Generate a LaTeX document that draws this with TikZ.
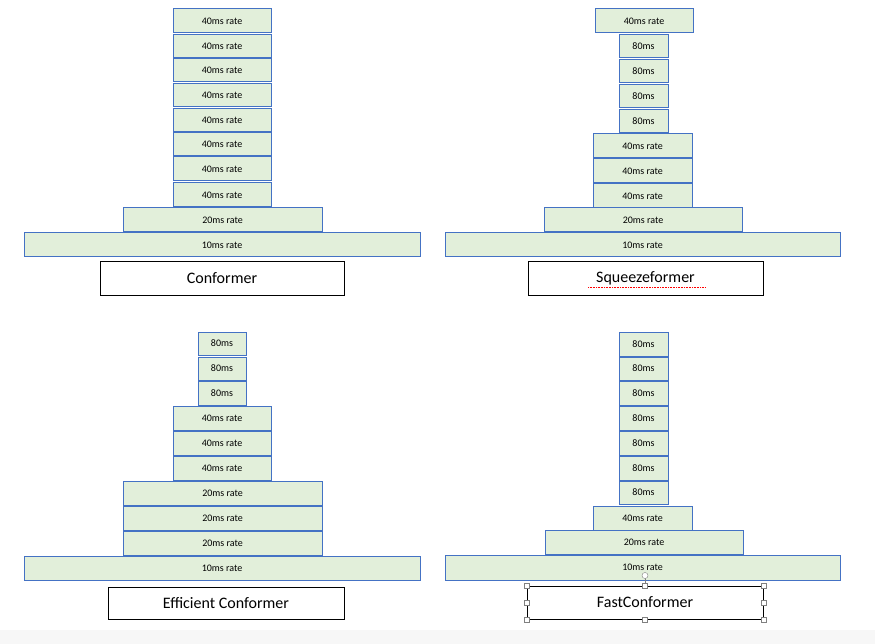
\documentclass[tikz,border=0pt]{standalone}
\usepackage{fontspec}
\setmainfont{Carlito}
\definecolor{bfill}{HTML}{E2EFDA}
\definecolor{bline}{HTML}{4472C4}
\newcommand{\bx}[6]{\node[blk,minimum width={(#4-#2)*1pt},minimum height={(#5-#3)*1pt}] (#1) at ({(#2+#4)/2},{(#3+#5)/2}) {#6};}
\newcommand{\lb}[6]{\node[lbl,minimum width={(#4-#2)*1pt},minimum height={(#5-#3)*1pt}] (#1) at ({(#2+#4)/2},{(#3+#5)/2}) {#6};}
\begin{document}
\begin{tikzpicture}[x=1pt,y=-1pt,
  blk/.style={draw=bline,fill=bfill,line width=1pt,inner sep=0pt,font=\fontsize{10}{10}\selectfont},
  lbl/.style={draw=black,fill=white,line width=1pt,inner sep=0pt,font=\fontsize{16}{16}\selectfont},
  hd/.style={draw=gray,fill=white,line width=0.5pt,minimum size=5pt,inner sep=0pt}]
\useasboundingbox (0,0) rectangle (875,644);
\fill[white] (0,0) rectangle (875,644);
\fill[black!3] (0,630) rectangle (875,644);
% Conformer
\bx{a1}{173}{9}{271}{33}{40ms rate}
\bx{a2}{173}{35}{271}{58}{40ms rate}
\bx{a3}{173}{59}{271}{82}{40ms rate}
\bx{a4}{173}{84}{271}{107}{40ms rate}
\bx{a5}{173}{109}{271}{132}{40ms rate}
\bx{a6}{173}{133}{271}{156}{40ms rate}
\bx{a7}{173}{157}{271}{181}{40ms rate}
\bx{a8}{173}{183}{271}{207}{40ms rate}
\bx{a9}{123}{208}{322}{232}{20ms rate}
\bx{a10}{24}{233}{420}{257}{10ms rate}
\lb{la}{100}{262}{344}{295}{Conformer}
% Squeezeformer
\bx{b1}{595}{9}{693}{33}{40ms rate}
\bx{b2}{619}{35}{668}{58}{80ms}
\bx{b3}{619}{60}{668}{83}{80ms}
\bx{b4}{619}{85}{668}{108}{80ms}
\bx{b5}{619}{110}{668}{133}{80ms}
\bx{b6}{593}{134}{692}{158}{40ms rate}
\bx{b7}{593}{159}{692}{183}{40ms rate}
\bx{b8}{593}{184}{692}{208}{40ms rate}
\bx{b9}{544}{208}{742}{232}{20ms rate}
\bx{b10}{445}{233}{840}{257}{10ms rate}
\lb{lb}{528}{262}{763}{295}{Squeezeformer}
\draw[red,densely dotted,line width=0.6pt] (588,287) -- (706,287);
% Efficient Conformer
\bx{c1}{198}{332}{246}{355}{80ms}
\bx{c2}{198}{357}{246}{380}{80ms}
\bx{c3}{198}{381}{246}{405}{80ms}
\bx{c4}{173}{406}{271}{430}{40ms rate}
\bx{c5}{173}{431}{271}{455}{40ms rate}
\bx{c6}{173}{456}{271}{480}{40ms rate}
\bx{c7}{123}{481}{322}{505}{20ms rate}
\bx{c8}{123}{506}{322}{530}{20ms rate}
\bx{c9}{123}{531}{322}{555}{20ms rate}
\bx{c10}{24}{556}{420}{580}{10ms rate}
\lb{lc}{108}{587}{344}{619}{Efficient Conformer}
% FastConformer
\bx{d1}{619}{332}{668}{356}{80ms}
\bx{d2}{619}{357}{668}{380}{80ms}
\bx{d3}{619}{381}{668}{405}{80ms}
\bx{d4}{619}{406}{668}{430}{80ms}
\bx{d5}{619}{431}{668}{455}{80ms}
\bx{d6}{619}{456}{668}{480}{80ms}
\bx{d7}{619}{481}{668}{504}{80ms}
\bx{d8}{593}{506}{692}{530}{40ms rate}
\bx{d9}{545}{530}{743}{554}{20ms rate}
\bx{d10}{445}{555}{840}{580}{10ms rate}
\lb{ld}{527}{586}{763}{619}{FastConformer}
\draw[gray,line width=0.5pt] (ld.north) -- ++(0,-10) coordinate (rot);
\node[draw=gray,fill=white,circle,minimum size=6pt,inner sep=0pt] (rh) at (rot) {};
\foreach \p in {north west,north,north east,east,south east,south,south west,west}
  \node[hd] at (ld.\p) {};
\end{tikzpicture}
\end{document}
